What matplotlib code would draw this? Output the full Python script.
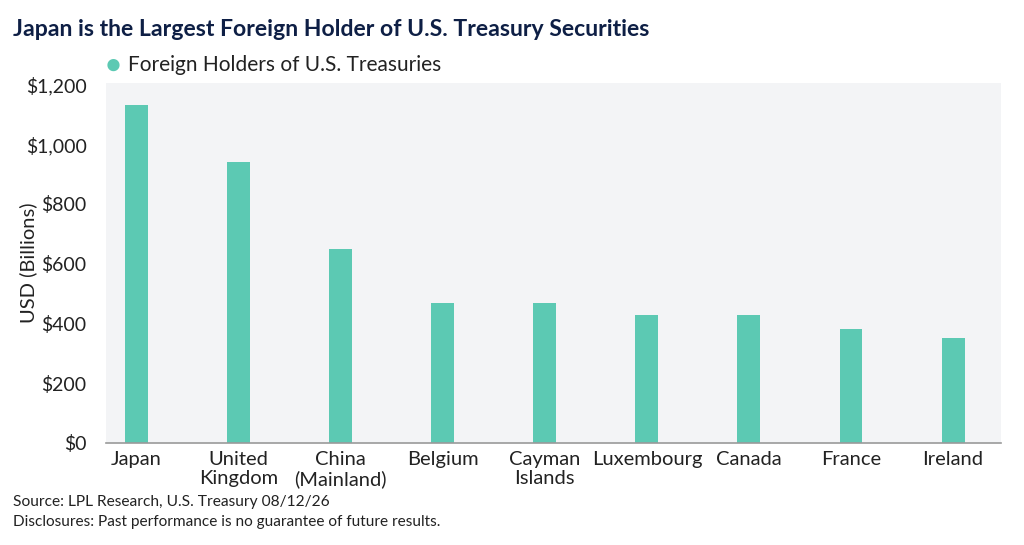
import matplotlib.pyplot as plt
from matplotlib.ticker import FuncFormatter

# Data
countries = ["Japan", "United\nKingdom", "China\n(Mainland)", "Belgium", "Cayman\nIslands",
             "Luxembourg", "Canada", "France", "Ireland"]
holdings = [1130, 939, 650, 468, 468, 429, 429, 382, 352]
yticks = [0, 200, 400, 600, 800, 1000, 1200]

BAR = "#5CC9B3"
BG = "#F3F4F6"
NAVY = "#0E1F45"
TXT = "#222222"

plt.rcParams['font.family'] = ['Lato', 'DejaVu Sans']

fig = plt.figure(figsize=(10.24, 5.45), dpi=100)
ax = fig.add_axes([106 / 1024, 1 - 443 / 545, 895 / 1024, 360 / 545])
ax.set_facecolor(BG)

x = list(range(len(countries)))
ax.bar(x, holdings, width=0.225, color=BAR, zorder=2)

ax.set_xlim(-0.30, 8.47)
ax.set_ylim(0, 1205)
ax.set_yticks(yticks)
ax.yaxis.set_major_formatter(FuncFormatter(lambda v, p: f"${v:,.0f}"))
ax.set_xticks(x)
ax.set_xticklabels(countries, fontsize=14.5, color=TXT, linespacing=1.15)
ax.tick_params(axis='y', labelsize=14, colors=TXT, length=0, pad=14)
ax.tick_params(axis='x', length=0, pad=6)

for s in ["top", "right", "left"]:
    ax.spines[s].set_visible(False)
ax.spines["bottom"].set_color("#9A9A9A")
ax.spines["bottom"].set_linewidth(1.2)

ax.set_ylabel("USD (Billions)", fontsize=14.5, color=TXT)
ax.yaxis.set_label_coords(-0.077, 0.5)

fig.text(13 / 1024, 1 - 30 / 545, "Japan is the Largest Foreign Holder of U.S. Treasury Securities",
         fontsize=16.6, fontweight='bold', color=NAVY, va='center', ha='left')

# legend
fig.text(113 / 1024, 1 - 65 / 545, "\u25CF", fontsize=18, color=BAR, va='center', ha='center')
fig.text(128 / 1024, 1 - 65 / 545, "Foreign Holders of U.S. Treasuries",
         fontsize=15, color=TXT, va='center', ha='left')

fig.text(13 / 1024, 1 - 502 / 545, "Source: LPL Research, U.S. Treasury 08/12/26",
         fontsize=11.2, color=TXT, va='center', ha='left')
fig.text(13 / 1024, 1 - 522 / 545, "Disclosures: Past performance is no guarantee of future results.",
         fontsize=11.1, color=TXT, va='center', ha='left')

fig.savefig("out.png", dpi=100, facecolor="white")
